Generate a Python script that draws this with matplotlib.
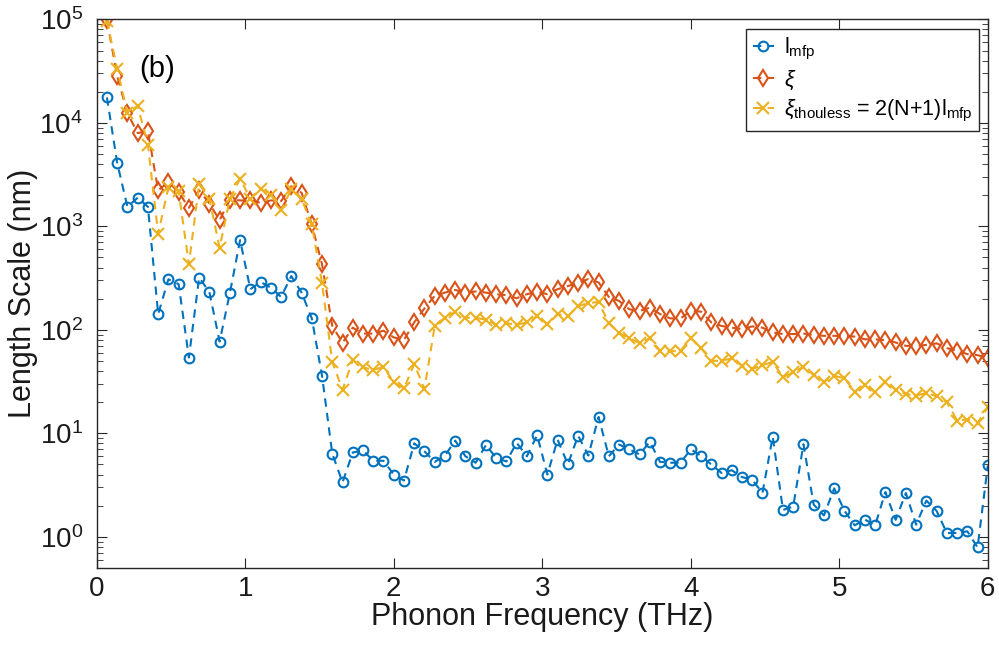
import numpy as np
import matplotlib
matplotlib.use('Agg')
import matplotlib.pyplot as plt
from matplotlib.ticker import LogLocator, NullFormatter

plt.rcParams['font.family'] = ['Liberation Sans', 'DejaVu Sans']
plt.rcParams['mathtext.fontset'] = 'custom'
plt.rcParams['mathtext.rm'] = 'Liberation Sans'
plt.rcParams['mathtext.it'] = 'Liberation Sans:italic'
plt.rcParams['mathtext.default'] = 'regular'

# frequency grid, 87 bins up to 6 THz
freq = np.arange(1, 88) * 6 / 87

l_mfp = [17600, 4100, 1545, 1890, 1545, 142, 308, 276, 54, 320,
         232, 77, 226, 736, 247, 290, 256, 208, 331, 229,
         129, 36, 6.35, 3.36, 6.53, 6.84, 5.43, 5.43, 4.0, 3.5,
         8.0, 6.7, 5.3, 6.1, 8.5, 6.0, 5.2, 7.7, 5.8, 5.35,
         8.1, 6.0, 9.6, 4.0, 8.7, 5.0, 9.5, 6.1, 14.4, 6.0,
         7.8, 7.0, 6.25, 8.3, 5.3, 5.2, 5.2, 7.0, 6.07, 5.0,
         4.14, 4.4, 3.78, 3.56, 2.65, 9.3, 1.82, 1.96, 7.85, 2.05,
         1.61, 2.94, 1.79, 1.29, 1.47, 1.29, 2.71, 1.46, 2.65, 1.31,
         2.24, 1.78, 1.09, 1.09, 1.13, 0.79, 4.9]

xi = [98500, 28400, 12400, 7970, 8270, 2230, 2670, 2140, 1510, 2230,
      1660, 1148, 1815, 1780, 1780, 1690, 1780, 1750, 2440, 2110,
      1043, 430, 109, 75, 105, 92, 92, 98, 84.5, 80,
      118, 161, 213, 229, 243, 229, 235, 229, 221, 216,
      202, 221, 232, 221, 247, 265, 282, 310, 287, 208,
      190, 158, 152, 164, 142, 129, 129, 152, 150, 118,
      109, 105, 101.6, 108, 105, 94.4, 91, 91, 92, 89,
      87.5, 87.5, 87.5, 86, 81, 81, 79.5, 75.5, 70, 70,
      71.5, 74, 66.6, 62.8, 58.3, 57, 53]

xi_thouless = [97000, 33200, 12400, 14600, 6150, 849, 2390, 2180, 430, 2570,
               1845, 622, 1845, 2890, 1845, 2300, 2030, 1430, 2270, 1845,
               1043, 282, 49, 26.4, 51, 43.4, 40.9, 44, 31.1, 27.2,
               46.8, 26.8, 109, 131, 149, 131, 131, 125, 112, 116,
               112, 118, 135, 113.5, 142, 135, 170, 181, 186, 116,
               93, 83, 74.5, 83, 62.8, 62, 62.8, 83, 66.6, 50.2,
               50.2, 53, 45, 41.8, 45.6, 49, 34.8, 38.9, 44, 36.6,
               31.6, 36, 34, 25.3, 29.3, 25, 31.6, 26.4, 24, 23.1,
               24.6, 22.8, 20, 13.3, 13.6, 12.6, 17.9]

fig = plt.figure(figsize=(9.99, 6.45), dpi=100)
ax = fig.add_axes([0.0968, 0.1194, 0.892, 0.8506])

ax.plot(freq, l_mfp, '--o', color='#0072BD', mfc='none', ms=7, mew=1.5, lw=1.5,
        dashes=(4, 3), label=r'$l_{mfp}$')
ax.plot(freq, xi, '--d', color='#D95319', mfc='none', ms=8, mew=1.5, lw=1.5,
        dashes=(4, 3), label=r'$\mathit{\xi}$')
ax.plot(freq, xi_thouless, '--x', color='#EDB120', ms=8, mew=1.5, lw=1.5,
        dashes=(4, 3), label=r'$\mathit{\xi}_{thouless}$ = 2(N+1)$l_{mfp}$')

ax.set_yscale('log')
ax.set_xlim(0, 6)
ax.set_ylim(0.5, 1e5)
ax.set_xticks([0, 1, 2, 3, 4, 5, 6])
ax.yaxis.set_major_locator(LogLocator(base=10, numticks=10))
ax.yaxis.set_minor_locator(LogLocator(base=10, subs=np.arange(2, 10), numticks=10))
ax.yaxis.set_minor_formatter(NullFormatter())

edge = '#262626'
for s in ax.spines.values():
    s.set_color(edge)
    s.set_linewidth(1.0)
ax.tick_params(which='both', direction='in', top=True, right=True, colors=edge,
               labelcolor='#1a1a1a')
ax.tick_params(which='major', length=7, labelsize=20)
ax.tick_params(axis='x', which='major', pad=6)
ax.tick_params(axis='y', which='major', pad=10)
ax.tick_params(which='minor', length=4)

ax.set_xlabel('Phonon Frequency (THz)', fontsize=22, color='#1a1a1a', labelpad=0)
ax.set_ylabel('Length Scale (nm)', fontsize=22, color='#1a1a1a', labelpad=1)

ax.text(0.048, 0.91, '(b)', transform=ax.transAxes, fontsize=21, color='black',
        va='center')

leg = ax.legend(loc='upper right', fontsize=15.5, handlelength=1.0, handletextpad=0.45,
                borderpad=0.3, labelspacing=0.3, fancybox=False, framealpha=1,
                edgecolor=edge, borderaxespad=0, bbox_to_anchor=(0.990, 0.982))
leg.get_frame().set_linewidth(1.0)

fig.savefig('out.png', dpi=100)
